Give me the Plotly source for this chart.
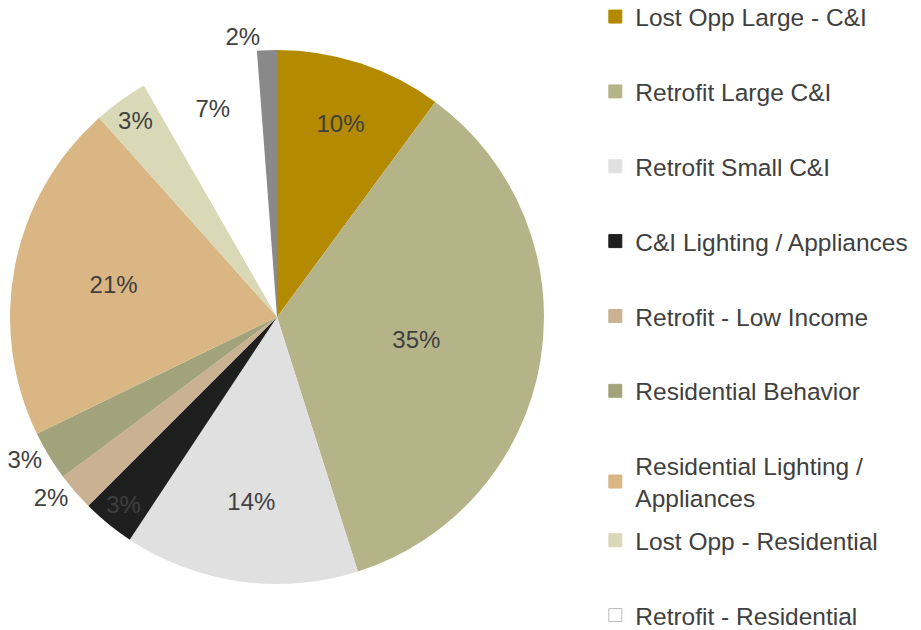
import plotly.graph_objects as go

# slices clockwise from 12 o'clock
labels = ["Lost Opp Large - C&I", "Retrofit Large C&I", "Retrofit Small C&I",
          "C&I Lighting / Appliances", "Retrofit - Low Income", "Residential Behavior",
          "Residential Lighting / Appliances", "Lost Opp - Residential",
          "Retrofit - Residential", "Other"]
values = [10.1, 35.0, 14.2, 3.2, 2.3, 3.0, 20.6, 3.3, 7.1, 1.2]
pct_text = ["10%", "35%", "14%", "3%", "2%", "3%", "21%", "3%", "7%", "2%"]
text_pos = ["inside", "inside", "inside", "inside", "outside", "outside",
            "inside", "inside", "inside", "outside"]
colors = ["#B38A00", "#B5B488", "#E0E0E0", "#1F1F1F", "#C9B192", "#A2A37A",
          "#D9B683", "#D9D9B7", "#FFFFFF", "#898989"]

# legend shows the first nine entries only
legend_names = ["Lost Opp Large - C&I", "Retrofit Large C&I", "Retrofit Small C&I",
                "C&I Lighting / Appliances", "Retrofit - Low Income",
                "Residential Behavior", "Residential Lighting /<br>Appliances",
                "Lost Opp - Residential", "Retrofit - Residential"]

fig = go.Figure()

fig.add_trace(go.Pie(
    labels=labels, values=values, text=pct_text, textinfo="text",
    textposition=text_pos, sort=False, direction="clockwise", rotation=0,
    marker=dict(colors=colors, line=dict(width=0)),
    textfont=dict(family="Liberation Sans", size=24, color="#404040"),
    insidetextorientation="horizontal",
    domain=dict(x=[0.0022, 0.582], y=[0.0857, 0.9333]),
    showlegend=False, hoverinfo="label+percent"))

# dummy traces for the legend
for i, name in enumerate(legend_names):
    fig.add_trace(go.Scatter(
        x=[None], y=[None], mode="markers", name=name,
        legendgroup=str(i), legend="legend" if i < 7 else "legend2",
        marker=dict(symbol="square", size=13, color=colors[i],
                    line=dict(width=1, color="#BBBBBB" if colors[i] == "#FFFFFF" else colors[i]))))

leg = dict(x=0.6377, xanchor="left", yanchor="top", tracegroupgap=40,
           font=dict(family="Liberation Sans", size=24.5, color="#404040"),
           bgcolor="rgba(0,0,0,0)", itemwidth=30, maxheight=700)

fig.update_layout(
    width=921, height=630,
    margin=dict(l=0, r=0, t=0, b=0, autoexpand=False),
    paper_bgcolor="white", plot_bgcolor="white",
    xaxis=dict(visible=False), yaxis=dict(visible=False),
    legend=dict(leg, y=1.022),
    legend2=dict(leg, y=0.1908),
)

fig.write_html("out.html")
